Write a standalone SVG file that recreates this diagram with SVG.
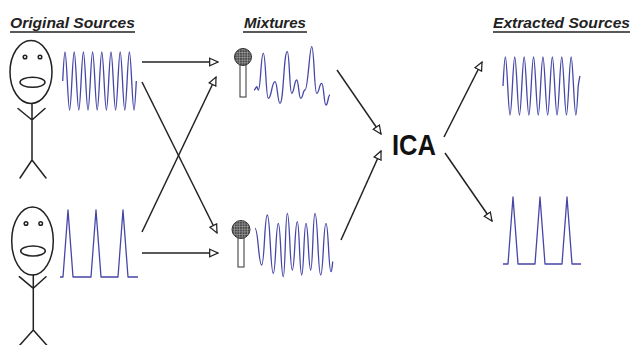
<svg xmlns="http://www.w3.org/2000/svg" width="631" height="345" viewBox="0 0 631 345">
  <style>
    .title { font-family: "Liberation Sans", Arial, sans-serif; font-size: 15.5px; font-weight: bold; font-style: italic; fill: #222; }
    .rule { stroke: #222; stroke-width: 1.6; }
    .ink { fill: none; stroke: #222; stroke-width: 1.5; stroke-linecap: round; stroke-linejoin: round; }
    .wave { fill: none; stroke: #4646a8; stroke-width: 1.3; stroke-linejoin: round; }
    .arrow { fill: none; stroke: #222; stroke-width: 1.5; marker-end: url(#open); }
    .mic-head { fill: url(#mesh); stroke: #333; stroke-width: 1; }
    .mic-handle { fill: #fff; stroke: #333; stroke-width: 1; }
  </style>
  <defs>
    <marker id="open" viewBox="0 0 12 12" refX="11" refY="6" markerWidth="10" markerHeight="10" markerUnits="userSpaceOnUse" orient="auto">
      <path d="M1,1.5 L11,6 L1,10.5 Z" fill="#fff" stroke="#222" stroke-width="1.5" stroke-linejoin="miter"/>
    </marker>
    <pattern id="mesh" width="2.6" height="2.6" patternUnits="userSpaceOnUse">
      <rect width="2.6" height="2.6" fill="#4a4a4a"/>
      <path d="M0,0.3 H2.6 M0.3,0 V2.6" stroke="#b0b0b0" stroke-width="0.6"/>
    </pattern>
  </defs>

  <rect width="631" height="345" fill="#fff"/>

  <!-- section headings -->
  <g id="headings">
    <text class="title" x="10" y="28" textLength="125" lengthAdjust="spacingAndGlyphs">Original Sources</text>
    <line class="rule" x1="10" y1="32" x2="135" y2="32"/>
    <text class="title" x="244" y="28" textLength="62" lengthAdjust="spacingAndGlyphs">Mixtures</text>
    <line class="rule" x1="243" y1="32" x2="307" y2="32"/>
    <text class="title" x="493" y="28" textLength="137" lengthAdjust="spacingAndGlyphs">Extracted Sources</text>
    <line class="rule" x1="493" y1="32" x2="630" y2="32"/>
  </g>

  <!-- speaker 1 with sine signal -->
  <g id="source1">
    <ellipse class="ink" cx="31" cy="72" rx="21" ry="31.5"/>
    <circle class="ink" cx="25" cy="57" r="1.8" stroke-width="1.2"/>
    <circle class="ink" cx="40" cy="57" r="1.8" stroke-width="1.2"/>
    <ellipse class="ink" cx="32.5" cy="82.3" rx="12.5" ry="5"/>
    <path class="ink" d="M32,103.5 V160 M18,108.5 L32,120 L45,108.5 M32,160 L20,178 M32,160 L46,178"/>
    <path class="wave" d="M62.7,81
      c1.95,-38.7 2.65,-38.7 4.6,0 c1.95,38.7 2.65,38.7 4.6,0
      c1.95,-38.7 2.65,-38.7 4.6,0 c1.95,38.7 2.65,38.7 4.6,0
      c1.95,-38.7 2.65,-38.7 4.6,0 c1.95,38.7 2.65,38.7 4.6,0
      c1.95,-38.7 2.65,-38.7 4.6,0 c1.95,38.7 2.65,38.7 4.6,0
      c1.95,-38.7 2.65,-38.7 4.6,0 c1.95,38.7 2.65,38.7 4.6,0
      c1.95,-38.7 2.65,-38.7 4.6,0 c1.95,38.7 2.65,38.7 4.6,0
      c1.95,-38.7 2.65,-38.7 4.6,0 c1.95,38.7 2.65,38.7 4.6,0
      c1.95,-38.7 2.65,-38.7 4.6,0 c1.95,38.7 2.65,38.7 4.6,0"/>
  </g>

  <!-- speaker 2 with pulse signal -->
  <g id="source2">
    <ellipse class="ink" cx="32.5" cy="241" rx="20.8" ry="34"/>
    <circle class="ink" cx="26" cy="223.5" r="1.8" stroke-width="1.2"/>
    <circle class="ink" cx="40.7" cy="223.5" r="1.8" stroke-width="1.2"/>
    <ellipse class="ink" cx="33" cy="251" rx="12.3" ry="5"/>
    <path class="ink" d="M33.3,275 V330 M19.3,276.7 L33.3,288.3 L46,276.7 M33.3,330 L19,346 M33.3,330 L47.5,346"/>
    <path class="wave" d="M60,277 H63 L68,210 L73,277 H91 L96,210 L101,277 H118 L123,210 L128,277 H138"/>
  </g>

  <!-- microphone 1 with first mixture -->
  <g id="mixture1">
    <rect class="mic-handle" x="240" y="64" width="6" height="33"/>
    <circle class="mic-head" cx="243" cy="57" r="8.5"/>
    <path class="wave" d="M254,90 C255.35,90 256.05,86.7 256.7,86.7 C257.5,86.7 257.5,90 258.3,90
      C260.8,90 260.8,53.3 263.3,53.3 C265.8,53.3 265.8,98.3 268.3,98.3
      C271.65,98.3 271.65,81.7 275,81.7 C277.5,81.7 277.5,103.3 280,103.3
      C283.65,103.3 283.65,51.7 287.3,51.7 C289.5,51.7 289.5,93.3 291.7,93.3
      C294.2,93.3 294.2,80 296.7,80 C298.7,80 298.7,98.3 300.7,98.3
      C303,98.3 303,90 305,90 C308,90 309.5,46.7 311.7,46.7
      C314.2,46.7 314.2,93.3 316.7,93.3 C319.2,93.3 319.2,83.3 321.7,83.3
      C323.85,83.3 323.85,105 326,105 C328,105 328,95 330,95"/>
  </g>

  <!-- microphone 2 with second mixture -->
  <g id="mixture2">
    <rect class="mic-handle" x="238" y="237" width="6" height="30"/>
    <circle class="mic-head" cx="241" cy="229.5" r="9"/>
    <path class="wave" d="M255,228.3 C258.35,228.3 258.35,265 261.7,265 C264.5,265 264.5,215 267.3,215
      C270.3,215 270.3,273.3 273.3,273.3 C275.8,273.3 275.8,223.3 278.3,223.3
      C280.8,223.3 280.8,276.7 283.3,276.7 C285.3,276.7 285.3,213.3 287.3,213.3
      C289.8,213.3 289.8,270 292.3,270 C294.8,270 294.8,221.7 297.3,221.7
      C299.5,221.7 299.5,275 301.7,275 C303.85,275 303.85,223.3 306,223.3
      C308.35,223.3 308.35,270 310.7,270 C312.85,270 312.85,213.3 315,213.3
      C317.85,213.3 317.85,275 320.7,275 C323.35,275 323.35,223.3 326,223.3
      C328.5,223.3 328.5,271.7 331,271.7 C331.85,271.7 332.2,266 332.7,261.7"/>
  </g>

  <!-- separation stage -->
  <g id="ica">
    <text x="392" y="155" font-family="'Liberation Sans', Arial, sans-serif" font-size="30" font-weight="bold" fill="#111" textLength="44" lengthAdjust="spacingAndGlyphs">ICA</text>
  </g>

  <!-- recovered signals -->
  <g id="extracted1">
    <path class="wave" d="M503,86
      c1.99,-38.7 2.71,-38.7 4.7,0 c1.99,38.7 2.71,38.7 4.7,0
      c1.99,-38.7 2.71,-38.7 4.7,0 c1.99,38.7 2.71,38.7 4.7,0
      c1.99,-38.7 2.71,-38.7 4.7,0 c1.99,38.7 2.71,38.7 4.7,0
      c1.99,-38.7 2.71,-38.7 4.7,0 c1.99,38.7 2.71,38.7 4.7,0
      c1.99,-38.7 2.71,-38.7 4.7,0 c1.99,38.7 2.71,38.7 4.7,0
      c1.99,-38.7 2.71,-38.7 4.7,0 c1.99,38.7 2.71,38.7 4.7,0
      c1.99,-38.7 2.71,-38.7 4.7,0 c1.99,38.7 2.71,38.7 4.7,0
      c1.99,-38.7 2.71,-38.7 4.7,0 c1.99,38.7 2.71,38.7 4.7,0
      c0.6,-4 1.2,-8 1.8,-10"/>
  </g>
  <g id="extracted2">
    <path class="wave" d="M503,264 H508 L513,197 L518,264 H535 L540,197 L545,264 H562 L567,197 L572,264 H581"/>
  </g>

  <!-- connectors -->
  <g id="connectors">
    <line class="arrow" x1="142" y1="62" x2="218" y2="62"/>
    <line class="arrow" x1="142" y1="82" x2="217" y2="233"/>
    <line class="arrow" x1="142" y1="232" x2="216" y2="77"/>
    <line class="arrow" x1="142" y1="253" x2="218" y2="253"/>
    <line class="arrow" x1="337" y1="70" x2="381" y2="134"/>
    <line class="arrow" x1="341" y1="240" x2="381" y2="151"/>
    <line class="arrow" x1="444" y1="137" x2="482" y2="62"/>
    <line class="arrow" x1="445" y1="153" x2="492" y2="221"/>
  </g>
</svg>
